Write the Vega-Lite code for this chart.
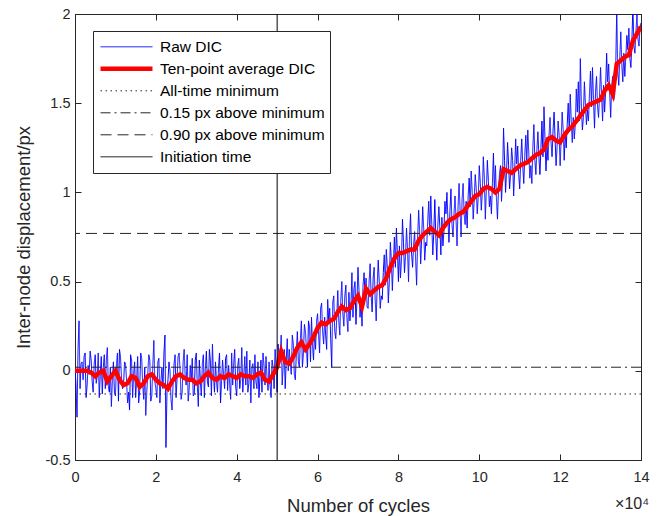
{
  "$schema": "https://vega.github.io/schema/vega-lite/v6.json",
  "autosize": {"type": "none"},
  "padding": {"left": 75, "top": 14, "right": 26, "bottom": 56},
  "width": 566,
  "height": 446,
  "background": "white",
  "view": {"stroke": "#262626", "strokeWidth": 1},
  "config": {
    "font": "Liberation Sans",
    "axis": {"domainColor": "#262626", "labelColor": "#262626", "titleColor": "#262626", "labelFont": "Liberation Sans", "titleFont": "Liberation Sans", "labelFontSize": 14.5, "titleFontSize": 18.5, "titleFontWeight": "normal", "labelFlush": false},
    "legend": {"orient": "none", "legendX": 18, "legendY": 17, "strokeColor": "#262626", "fillColor": "white", "padding": 5, "labelFont": "Liberation Sans", "labelFontSize": 15.5, "labelColor": "#000000", "symbolType": "stroke", "symbolSize": 2700, "clipHeight": 21.6, "rowPadding": 0, "labelOffset": 5, "labelLimit": 300, "zindex": 2}
  },
  "title": {"text": "×10⁴", "orient": "bottom", "anchor": "end", "fontSize": 16, "fontWeight": "normal", "font": "Liberation Sans", "color": "#262626", "offset": -19},
  "datasets": {
    "raw": [
{"c":0,"v":0.02},{"c":500,"v":-0.26},{"c":1000,"v":0.28},{"c":1500,"v":0.04},{"c":2000,"v":-0.05},{"c":2500,"v":0.10},{"c":3000,"v":-0.08},{"c":3500,"v":-0.02},{"c":4000,"v":0.06},{"c":4500,"v":-0.12},
{"c":5000,"v":0.09},{"c":5500,"v":-0.03},{"c":6000,"v":-0.15},{"c":6500,"v":0.08},{"c":7000,"v":0.02},{"c":7500,"v":-0.10},{"c":8000,"v":0.13},{"c":8500,"v":-0.12},{"c":9000,"v":-0.20},{"c":9500,"v":0.05},
{"c":10000,"v":-0.14},{"c":10500,"v":0.10},{"c":11000,"v":0.12},{"c":11500,"v":-0.04},{"c":12000,"v":-0.09},{"c":12500,"v":0.04},{"c":13000,"v":-0.18},{"c":13500,"v":-0.22},{"c":14000,"v":0.06},{"c":14500,"v":-0.02},
{"c":15000,"v":-0.15},{"c":15500,"v":0.08},{"c":16000,"v":-0.11},{"c":16500,"v":0.07},{"c":17000,"v":-0.16},{"c":17500,"v":-0.25},{"c":18000,"v":-0.02},{"c":18500,"v":0.06},{"c":19000,"v":-0.14},{"c":19500,"v":0.17},
{"c":20000,"v":-0.10},{"c":20500,"v":0.05},{"c":21000,"v":-0.18},{"c":21500,"v":0.02},{"c":22000,"v":0.10},{"c":22500,"v":-0.43},{"c":23000,"v":-0.05},{"c":23500,"v":0.00},{"c":24000,"v":-0.22},{"c":24500,"v":0.04},
{"c":25000,"v":-0.15},{"c":25500,"v":0.08},{"c":26000,"v":0.00},{"c":26500,"v":-0.12},{"c":27000,"v":0.12},{"c":27500,"v":-0.08},{"c":28000,"v":-0.17},{"c":28500,"v":0.03},{"c":29000,"v":0.07},{"c":29500,"v":-0.13},
{"c":30000,"v":0.10},{"c":30500,"v":-0.20},{"c":31000,"v":-0.05},{"c":31500,"v":0.04},{"c":32000,"v":-0.15},{"c":32500,"v":0.11},{"c":33000,"v":-0.09},{"c":33500,"v":0.05},{"c":34000,"v":0.15},{"c":34500,"v":-0.12},
{"c":35000,"v":-0.06},{"c":35500,"v":0.02},{"c":36000,"v":-0.18},{"c":36500,"v":0.06},{"c":37000,"v":-0.10},{"c":37500,"v":0.09},{"c":38000,"v":0.03},{"c":38500,"v":-0.16},{"c":39000,"v":-0.08},{"c":39500,"v":0.12},
{"c":40000,"v":-0.14},{"c":40500,"v":0.07},{"c":41000,"v":-0.05},{"c":41500,"v":-0.12},{"c":42000,"v":0.08},{"c":42500,"v":0.11},{"c":43000,"v":-0.07},{"c":43500,"v":-0.18},{"c":44000,"v":0.04},{"c":44500,"v":0.09},
{"c":45000,"v":-0.10},{"c":45500,"v":-0.15},{"c":46000,"v":0.06},{"c":46500,"v":0.10},{"c":47000,"v":-0.08},{"c":47500,"v":-0.04},{"c":48000,"v":0.05},{"c":48500,"v":-0.15},{"c":49000,"v":0.02},{"c":49500,"v":0.12},
{"c":50000,"v":-0.12},{"c":50500,"v":0.08},{"c":51000,"v":0.20},{"c":51500,"v":0.03},{"c":52000,"v":-0.10},{"c":52500,"v":0.18},{"c":53000,"v":0.12},{"c":53500,"v":-0.02},{"c":54000,"v":0.15},{"c":54500,"v":-0.05},
{"c":55000,"v":0.22},{"c":55500,"v":0.02},{"c":56000,"v":0.28},{"c":56500,"v":0.10},{"c":57000,"v":0.22},{"c":57500,"v":0.02},{"c":58000,"v":0.25},{"c":58500,"v":0.30},{"c":59000,"v":0.06},{"c":59500,"v":0.12},
{"c":60000,"v":0.32},{"c":60500,"v":0.10},{"c":61000,"v":0.38},{"c":61500,"v":0.15},{"c":62000,"v":0.20},{"c":62500,"v":0.40},{"c":63000,"v":0.35},{"c":63500,"v":0.02},{"c":64000,"v":0.42},{"c":64500,"v":0.18},
{"c":65000,"v":0.45},{"c":65500,"v":0.20},{"c":66000,"v":0.50},{"c":66500,"v":0.25},{"c":67000,"v":0.48},{"c":67500,"v":0.22},{"c":68000,"v":0.28},{"c":68500,"v":0.55},{"c":69000,"v":0.46},{"c":69500,"v":0.26},
{"c":70000,"v":0.58},{"c":70500,"v":0.30},{"c":71000,"v":0.25},{"c":71500,"v":0.55},{"c":72000,"v":0.52},{"c":72500,"v":0.35},{"c":73000,"v":0.60},{"c":73500,"v":0.33},{"c":74000,"v":0.58},{"c":74500,"v":0.28},
{"c":75000,"v":0.62},{"c":75500,"v":0.35},{"c":76000,"v":0.40},{"c":76500,"v":0.65},{"c":77000,"v":0.68},{"c":77500,"v":0.38},{"c":78000,"v":0.72},{"c":78500,"v":0.45},{"c":79000,"v":0.75},{"c":79500,"v":0.80},
{"c":80000,"v":0.50},{"c":80500,"v":0.52},{"c":81000,"v":0.85},{"c":81500,"v":0.55},{"c":82000,"v":0.80},{"c":82500,"v":0.50},{"c":83000,"v":0.88},{"c":83500,"v":0.58},{"c":84000,"v":0.78},{"c":84500,"v":0.48},
{"c":85000,"v":0.90},{"c":85500,"v":0.60},{"c":86000,"v":0.92},{"c":86500,"v":0.62},{"c":87000,"v":0.70},{"c":87500,"v":0.95},{"c":88000,"v":0.98},{"c":88500,"v":0.65},{"c":89000,"v":0.96},{"c":89500,"v":0.62},
{"c":90000,"v":0.92},{"c":90500,"v":0.65},{"c":91000,"v":0.70},{"c":91500,"v":0.95},{"c":92000,"v":1.00},{"c":92500,"v":0.72},{"c":93000,"v":1.02},{"c":93500,"v":0.75},{"c":94000,"v":0.98},{"c":94500,"v":0.70},
{"c":95000,"v":1.05},{"c":95500,"v":0.75},{"c":96000,"v":1.05},{"c":96500,"v":0.82},{"c":97000,"v":0.80},{"c":97500,"v":1.08},{"c":98000,"v":1.12},{"c":98500,"v":0.85},{"c":99000,"v":1.10},{"c":99500,"v":0.88},
{"c":100000,"v":1.15},{"c":100500,"v":0.90},{"c":101000,"v":1.20},{"c":101500,"v":0.85},{"c":102000,"v":1.18},{"c":102500,"v":0.92},{"c":103000,"v":0.88},{"c":103500,"v":1.22},{"c":104000,"v":1.15},{"c":104500,"v":0.85},
{"c":105000,"v":1.10},{"c":105500,"v":0.95},{"c":106000,"v":1.36},{"c":106500,"v":1.00},{"c":107000,"v":1.28},{"c":107500,"v":1.02},{"c":108000,"v":1.25},{"c":108500,"v":0.98},{"c":109000,"v":1.30},{"c":109500,"v":1.26},
{"c":110000,"v":1.02},{"c":110500,"v":1.30},{"c":111000,"v":1.05},{"c":111500,"v":1.32},{"c":112000,"v":1.35},{"c":112500,"v":1.08},{"c":113000,"v":1.05},{"c":113500,"v":1.38},{"c":114000,"v":1.10},{"c":114500,"v":1.34},
{"c":115000,"v":1.10},{"c":115500,"v":1.40},{"c":116000,"v":1.48},{"c":116500,"v":1.12},{"c":117000,"v":1.18},{"c":117500,"v":1.42},{"c":118000,"v":1.20},{"c":118500,"v":1.45},{"c":119000,"v":1.15},{"c":119500,"v":1.40},
{"c":120000,"v":1.15},{"c":120500,"v":1.45},{"c":121000,"v":1.18},{"c":121500,"v":1.25},{"c":122000,"v":1.50},{"c":122500,"v":1.55},{"c":123000,"v":1.28},{"c":123500,"v":1.30},{"c":124000,"v":1.58},{"c":124500,"v":1.62},
{"c":125000,"v":1.75},{"c":125500,"v":1.35},{"c":126000,"v":1.62},{"c":126500,"v":1.38},{"c":127000,"v":1.40},{"c":127500,"v":1.68},{"c":128000,"v":1.70},{"c":128500,"v":1.36},{"c":129000,"v":1.65},{"c":129500,"v":1.42},
{"c":130000,"v":1.70},{"c":130500,"v":1.40},{"c":131000,"v":1.45},{"c":131500,"v":1.78},{"c":132000,"v":1.72},{"c":132500,"v":1.42},{"c":133000,"v":1.65},{"c":133500,"v":1.55},{"c":134000,"v":2.03},{"c":134500,"v":1.60},
{"c":135000,"v":1.90},{"c":135500,"v":1.62},{"c":136000,"v":1.65},{"c":136500,"v":1.88},{"c":137000,"v":1.92},{"c":137500,"v":1.70},{"c":138000,"v":2.05},{"c":138500,"v":1.78},{"c":139000,"v":2.00},{"c":139500,"v":1.82},
{"c":140000,"v":1.95},
{"c":250,"v":-0.08},{"c":750,"v":0.12},{"c":1250,"v":-0.10},{"c":1750,"v":0.05},{"c":2250,"v":0.08},{"c":2750,"v":-0.15},{"c":3250,"v":0.03},{"c":3750,"v":0.11},{"c":4250,"v":-0.06},{"c":4750,"v":0.04},
{"c":5250,"v":-0.07},{"c":5750,"v":0.10},{"c":6250,"v":-0.02},{"c":6750,"v":-0.13},{"c":7250,"v":0.09},{"c":7750,"v":0.06},{"c":8250,"v":-0.09},{"c":8750,"v":0.02},{"c":9250,"v":-0.05},{"c":9750,"v":-0.12},
{"c":10250,"v":0.03},{"c":10750,"v":-0.17},{"c":11250,"v":0.08},{"c":11750,"v":-0.10},{"c":12250,"v":0.05},{"c":12750,"v":-0.05},{"c":13250,"v":-0.12},{"c":13750,"v":0.09},{"c":14250,"v":-0.15},{"c":14750,"v":0.05},
{"c":15250,"v":-0.05},{"c":15750,"v":-0.18},{"c":16250,"v":0.10},{"c":16750,"v":-0.08},{"c":17250,"v":0.02},{"c":17750,"v":-0.12},{"c":18250,"v":0.09},{"c":18750,"v":-0.17},{"c":19250,"v":0.03},{"c":19750,"v":-0.06},
{"c":20250,"v":-0.15},{"c":20750,"v":0.07},{"c":21250,"v":-0.06},{"c":21750,"v":-0.10},{"c":22250,"v":0.20},{"c":22750,"v":-0.12},{"c":23250,"v":0.05},{"c":23750,"v":-0.16},{"c":24250,"v":-0.08},{"c":24750,"v":0.09},
{"c":25250,"v":-0.04},{"c":25750,"v":0.10},{"c":26250,"v":-0.16},{"c":26750,"v":0.05},{"c":27250,"v":-0.03},{"c":27750,"v":0.09},{"c":28250,"v":-0.10},{"c":28750,"v":-0.06},{"c":29250,"v":-0.14},{"c":29750,"v":0.06},
{"c":30250,"v":-0.08},{"c":30750,"v":0.06},{"c":31250,"v":-0.14},{"c":31750,"v":0.09},{"c":32250,"v":0.02},{"c":32750,"v":-0.06},{"c":33250,"v":0.12},{"c":33750,"v":-0.14},{"c":34250,"v":-0.03},{"c":34750,"v":0.05},
{"c":35250,"v":-0.12},{"c":35750,"v":0.10},{"c":36250,"v":-0.06},{"c":36750,"v":-0.02},{"c":37250,"v":0.07},{"c":37750,"v":-0.11},{"c":38250,"v":-0.07},{"c":38750,"v":0.10},{"c":39250,"v":0.04},{"c":39750,"v":-0.09},
{"c":40250,"v":0.03},{"c":40750,"v":-0.10},{"c":41250,"v":0.13},{"c":41750,"v":-0.03},{"c":42250,"v":-0.08},{"c":42750,"v":-0.12},{"c":43250,"v":0.06},{"c":43750,"v":0.02},{"c":44250,"v":-0.10},{"c":44750,"v":-0.06},
{"c":45250,"v":0.05},{"c":45750,"v":-0.04},{"c":46250,"v":-0.12},{"c":46750,"v":0.03},{"c":47250,"v":0.08},{"c":47750,"v":-0.11},{"c":48250,"v":-0.08},{"c":48750,"v":0.06},{"c":49250,"v":-0.10},{"c":49750,"v":0.02},
{"c":50250,"v":0.15},{"c":50750,"v":0.05},{"c":51250,"v":-0.08},{"c":51750,"v":0.12},{"c":52250,"v":0.06},{"c":52750,"v":0.00},{"c":53250,"v":0.04},{"c":53750,"v":0.20},{"c":54250,"v":-0.02},{"c":54750,"v":0.10},
{"c":55250,"v":0.05},{"c":55750,"v":0.18},{"c":56250,"v":0.02},{"c":56750,"v":0.26},{"c":57250,"v":0.12},{"c":57750,"v":0.28},{"c":58250,"v":0.05},{"c":58750,"v":0.14},{"c":59250,"v":0.22},{"c":59750,"v":0.28},
{"c":60250,"v":0.20},{"c":60750,"v":0.35},{"c":61250,"v":0.22},{"c":61750,"v":0.30},{"c":62250,"v":0.12},{"c":62750,"v":0.28},{"c":63250,"v":0.18},{"c":63750,"v":0.38},{"c":64250,"v":0.22},{"c":64750,"v":0.30},
{"c":65250,"v":0.28},{"c":65750,"v":0.40},{"c":66250,"v":0.32},{"c":66750,"v":0.42},{"c":67250,"v":0.30},{"c":67750,"v":0.44},{"c":68250,"v":0.36},{"c":68750,"v":0.30},{"c":69250,"v":0.50},{"c":69750,"v":0.40},
{"c":70250,"v":0.45},{"c":70750,"v":0.38},{"c":71250,"v":0.48},{"c":71750,"v":0.42},{"c":72250,"v":0.36},{"c":72750,"v":0.50},{"c":73250,"v":0.42},{"c":73750,"v":0.52},{"c":74250,"v":0.40},{"c":74750,"v":0.48},
{"c":75250,"v":0.50},{"c":75750,"v":0.42},{"c":76250,"v":0.55},{"c":76750,"v":0.48},{"c":77250,"v":0.58},{"c":77750,"v":0.50},{"c":78250,"v":0.62},{"c":78750,"v":0.60},{"c":79250,"v":0.58},{"c":79750,"v":0.66},
{"c":80250,"v":0.70},{"c":80750,"v":0.62},{"c":81250,"v":0.72},{"c":81750,"v":0.64},{"c":82250,"v":0.68},{"c":82750,"v":0.75},{"c":83250,"v":0.66},{"c":83750,"v":0.70},{"c":84250,"v":0.62},{"c":84750,"v":0.74},
{"c":85250,"v":0.78},{"c":85750,"v":0.74},{"c":86250,"v":0.80},{"c":86750,"v":0.72},{"c":87250,"v":0.84},{"c":87750,"v":0.76},{"c":88250,"v":0.82},{"c":88750,"v":0.78},{"c":89250,"v":0.75},{"c":89750,"v":0.82},
{"c":90250,"v":0.80},{"c":90750,"v":0.86},{"c":91250,"v":0.78},{"c":91750,"v":0.88},{"c":92250,"v":0.84},{"c":92750,"v":0.90},{"c":93250,"v":0.82},{"c":93750,"v":0.88},{"c":94250,"v":0.85},{"c":94750,"v":0.92},
{"c":95250,"v":0.90},{"c":95750,"v":0.96},{"c":96250,"v":0.88},{"c":96750,"v":0.95},{"c":97250,"v":0.98},{"c":97750,"v":0.92},{"c":98250,"v":1.00},{"c":98750,"v":0.96},{"c":99250,"v":1.02},{"c":99750,"v":0.98},
{"c":100250,"v":1.05},{"c":100750,"v":1.00},{"c":101250,"v":1.08},{"c":101750,"v":1.02},{"c":102250,"v":1.06},{"c":102750,"v":0.98},{"c":103250,"v":1.05},{"c":103750,"v":1.00},{"c":104250,"v":0.96},{"c":104750,"v":1.02},
{"c":105250,"v":1.15},{"c":105750,"v":1.08},{"c":106250,"v":1.18},{"c":106750,"v":1.12},{"c":107250,"v":1.15},{"c":107750,"v":1.10},{"c":108250,"v":1.18},{"c":108750,"v":1.12},{"c":109250,"v":1.16},{"c":109750,"v":1.10},
{"c":110250,"v":1.18},{"c":110750,"v":1.15},{"c":111250,"v":1.20},{"c":111750,"v":1.18},{"c":112250,"v":1.22},{"c":112750,"v":1.15},{"c":113250,"v":1.25},{"c":113750,"v":1.18},{"c":114250,"v":1.24},{"c":114750,"v":1.20},
{"c":115250,"v":1.25},{"c":115750,"v":1.20},{"c":116250,"v":1.30},{"c":116750,"v":1.26},{"c":117250,"v":1.32},{"c":117750,"v":1.28},{"c":118250,"v":1.35},{"c":118750,"v":1.30},{"c":119250,"v":1.26},{"c":119750,"v":1.32},
{"c":120250,"v":1.30},{"c":120750,"v":1.35},{"c":121250,"v":1.32},{"c":121750,"v":1.38},{"c":122250,"v":1.34},{"c":122750,"v":1.40},{"c":123250,"v":1.42},{"c":123750,"v":1.38},{"c":124250,"v":1.45},{"c":124750,"v":1.40},
{"c":125250,"v":1.48},{"c":125750,"v":1.42},{"c":126250,"v":1.50},{"c":126750,"v":1.46},{"c":127250,"v":1.55},{"c":127750,"v":1.48},{"c":128250,"v":1.52},{"c":128750,"v":1.56},{"c":129250,"v":1.48},{"c":129750,"v":1.55},
{"c":130250,"v":1.55},{"c":130750,"v":1.60},{"c":131250,"v":1.58},{"c":131750,"v":1.62},{"c":132250,"v":1.56},{"c":132750,"v":1.60},{"c":133250,"v":1.52},{"c":133750,"v":1.70},{"c":134250,"v":1.68},{"c":134750,"v":1.75},
{"c":135250,"v":1.72},{"c":135750,"v":1.78},{"c":136250,"v":1.76},{"c":136750,"v":1.80},{"c":137250,"v":1.75},{"c":137750,"v":1.85},{"c":138250,"v":1.82},{"c":138750,"v":1.90},{"c":139250,"v":1.86},{"c":139750,"v":1.92}
    ],
    "avg": [
{"c":0,"v":0.00},{"c":1000,"v":0.00},{"c":2000,"v":0.00},{"c":3000,"v":0.00},{"c":4000,"v":-0.01},{"c":5000,"v":-0.03},{"c":6000,"v":-0.01},{"c":7000,"v":0.00},{"c":8000,"v":-0.06},{"c":9000,"v":-0.03},
{"c":10000,"v":0.00},{"c":11000,"v":-0.05},{"c":12000,"v":-0.08},{"c":13000,"v":-0.07},{"c":14000,"v":-0.03},{"c":15000,"v":-0.04},{"c":16000,"v":-0.09},{"c":17000,"v":-0.07},{"c":18000,"v":-0.03},{"c":19000,"v":-0.02},
{"c":20000,"v":-0.05},{"c":21000,"v":-0.07},{"c":22000,"v":-0.08},{"c":23000,"v":-0.10},{"c":24000,"v":-0.06},{"c":25000,"v":-0.03},{"c":26000,"v":-0.02},{"c":27000,"v":-0.04},{"c":28000,"v":-0.05},{"c":29000,"v":-0.05},
{"c":30000,"v":-0.07},{"c":31000,"v":-0.06},{"c":32000,"v":-0.03},{"c":33000,"v":-0.01},{"c":34000,"v":-0.04},{"c":35000,"v":-0.05},{"c":36000,"v":-0.03},{"c":37000,"v":-0.04},{"c":38000,"v":-0.02},{"c":39000,"v":-0.03},
{"c":40000,"v":-0.04},{"c":41000,"v":-0.02},{"c":42000,"v":-0.03},{"c":43000,"v":-0.03},{"c":44000,"v":-0.04},{"c":45000,"v":-0.02},{"c":46000,"v":-0.01},{"c":47000,"v":-0.05},{"c":48000,"v":-0.06},{"c":49000,"v":-0.02},
{"c":50000,"v":0.02},{"c":51000,"v":0.11},{"c":52000,"v":0.05},{"c":53000,"v":0.04},{"c":54000,"v":0.08},{"c":55000,"v":0.13},{"c":56000,"v":0.16},{"c":57000,"v":0.12},{"c":58000,"v":0.15},{"c":59000,"v":0.19},
{"c":60000,"v":0.24},{"c":61000,"v":0.27},{"c":62000,"v":0.26},{"c":63000,"v":0.28},{"c":64000,"v":0.29},{"c":65000,"v":0.33},{"c":66000,"v":0.36},{"c":67000,"v":0.34},{"c":68000,"v":0.35},{"c":69000,"v":0.39},
{"c":70000,"v":0.42},{"c":71000,"v":0.36},{"c":72000,"v":0.46},{"c":73000,"v":0.43},{"c":74000,"v":0.45},{"c":75000,"v":0.47},{"c":76000,"v":0.48},{"c":77000,"v":0.52},{"c":78000,"v":0.58},{"c":79000,"v":0.63},
{"c":80000,"v":0.66},{"c":81000,"v":0.66},{"c":82000,"v":0.67},{"c":83000,"v":0.68},{"c":84000,"v":0.68},{"c":85000,"v":0.73},{"c":86000,"v":0.76},{"c":87000,"v":0.78},{"c":88000,"v":0.80},{"c":89000,"v":0.78},
{"c":90000,"v":0.76},{"c":91000,"v":0.80},{"c":92000,"v":0.83},{"c":93000,"v":0.85},{"c":94000,"v":0.86},{"c":95000,"v":0.88},{"c":96000,"v":0.89},{"c":97000,"v":0.92},{"c":98000,"v":0.95},{"c":99000,"v":0.98},
{"c":100000,"v":0.99},{"c":101000,"v":1.02},{"c":102000,"v":1.03},{"c":103000,"v":1.02},{"c":104000,"v":1.00},{"c":105000,"v":1.02},{"c":106000,"v":1.13},{"c":107000,"v":1.12},{"c":108000,"v":1.11},{"c":109000,"v":1.13},
{"c":110000,"v":1.15},{"c":111000,"v":1.16},{"c":112000,"v":1.17},{"c":113000,"v":1.19},{"c":114000,"v":1.21},{"c":115000,"v":1.22},{"c":116000,"v":1.24},{"c":117000,"v":1.30},{"c":118000,"v":1.31},{"c":119000,"v":1.29},
{"c":120000,"v":1.28},{"c":121000,"v":1.32},{"c":122000,"v":1.35},{"c":123000,"v":1.37},{"c":124000,"v":1.40},{"c":125000,"v":1.43},{"c":126000,"v":1.46},{"c":127000,"v":1.49},{"c":128000,"v":1.50},{"c":129000,"v":1.51},
{"c":130000,"v":1.52},{"c":131000,"v":1.57},{"c":132000,"v":1.60},{"c":133000,"v":1.55},{"c":134000,"v":1.72},{"c":135000,"v":1.74},{"c":136000,"v":1.76},{"c":137000,"v":1.77},{"c":138000,"v":1.85},{"c":139000,"v":1.89},
{"c":140000,"v":1.93}
    ],
    "hlines": [
      {"s": "All-time minimum", "v": -0.13},
      {"s": "0.15 px above minimum", "v": 0.02},
      {"s": "0.90 px above minimum", "v": 0.77}
    ],
    "vline": [
      {"s": "Initiation time", "c": 50000}
    ]
  },
  "encoding": {
    "color": {"field": "s", "type": "nominal", "scale": {"domain": ["Raw DIC", "Ten-point average DIC", "All-time minimum", "0.15 px above minimum", "0.90 px above minimum", "Initiation time"], "range": ["#0000FF", "#FF0000", "#262626", "#262626", "#262626", "#000000"]}, "legend": {"title": null}},
    "strokeDash": {"field": "s", "type": "nominal", "scale": {"domain": ["Raw DIC", "Ten-point average DIC", "All-time minimum", "0.15 px above minimum", "0.90 px above minimum", "Initiation time"], "range": [[1, 0], [1, 0], [1.5, 3.5], [10, 4, 2, 4], [11, 6], [1, 0]]}, "legend": {"title": null}},
    "strokeWidth": {"field": "s", "type": "nominal", "scale": {"type": "ordinal", "domain": ["Raw DIC", "Ten-point average DIC", "All-time minimum", "0.15 px above minimum", "0.90 px above minimum", "Initiation time"], "range": [1, 4.5, 1, 1, 1, 1]}, "legend": {"title": null}}
  },
  "resolve": {"axis": {"x": "independent", "y": "independent"}},
  "layer": [
    {
      "data": {"name": "raw"},
      "transform": [{"fold": ["Raw DIC"], "as": ["s", "dummy"]}],
      "mark": {"type": "line", "clip": true},
      "encoding": {
        "x": {"field": "c", "type": "quantitative", "scale": {"domain": [0, 140000], "nice": false}, "axis": {"grid": false, "values": [0, 20000, 40000, 60000, 80000, 100000, 120000, 140000], "labelExpr": "datum.value / 10000", "title": "Number of cycles", "ticks": true, "tickSize": -6, "tickWidth": 1, "tickColor": "#262626", "labelPadding": 16, "titlePadding": 13}},
        "y": {"field": "v", "type": "quantitative", "scale": {"domain": [-0.5, 2], "nice": false}, "axis": {"grid": false, "values": [-0.5, 0, 0.5, 1, 1.5, 2], "labelExpr": "datum.value < 0 ? '-' + format(-datum.value, '') : format(datum.value, '')", "title": "Inter-node displacement/px", "ticks": true, "tickSize": -6, "tickWidth": 1, "tickColor": "#262626", "labelPadding": 11, "titlePadding": 12}}
      }
    },
    {
      "data": {"name": "avg"},
      "transform": [{"fold": ["Ten-point average DIC"], "as": ["s", "dummy"]}],
      "mark": {"type": "line", "clip": true},
      "encoding": {
        "x": {"field": "c", "type": "quantitative", "axis": null},
        "y": {"field": "v", "type": "quantitative", "axis": null}
      }
    },
    {
      "data": {"name": "hlines"},
      "mark": {"type": "rule"},
      "encoding": {
        "y": {"field": "v", "type": "quantitative", "axis": {"grid": false, "orient": "right", "values": [-0.5, 0, 0.5, 1, 1.5, 2], "labels": false, "title": null, "ticks": true, "tickSize": -6, "tickWidth": 1, "tickColor": "#262626"}}
      }
    },
    {
      "data": {"name": "vline"},
      "mark": {"type": "rule"},
      "encoding": {
        "x": {"field": "c", "type": "quantitative", "axis": {"grid": false, "orient": "top", "values": [0, 20000, 40000, 60000, 80000, 100000, 120000, 140000], "labels": false, "title": null, "ticks": true, "tickSize": -6, "tickWidth": 1, "tickColor": "#262626"}}
      }
    }
  ]
}
